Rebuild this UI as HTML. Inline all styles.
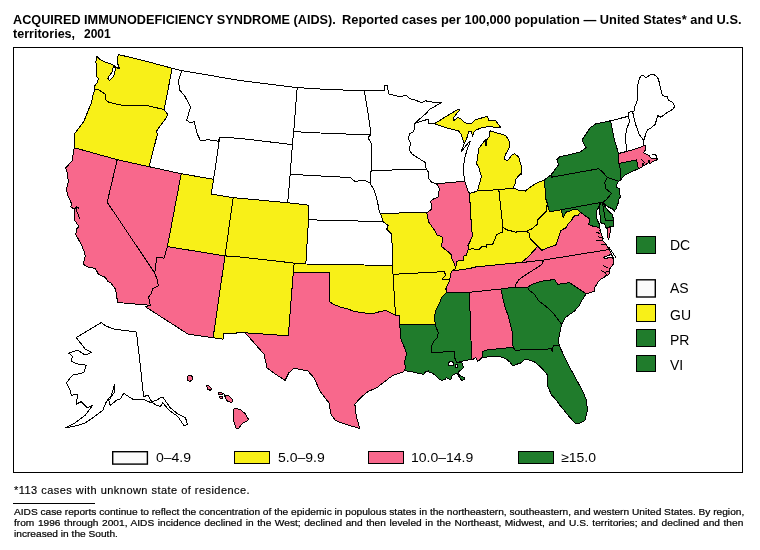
<!DOCTYPE html>
<html><head><meta charset="utf-8">
<style>
html,body{margin:0;padding:0;background:#fff;}
body{width:760px;height:550px;position:relative;overflow:hidden;font-family:"Liberation Sans",sans-serif;color:#000;}
.t{position:absolute;white-space:nowrap;transform-origin:0 0;}
.tt{font-weight:bold;font-size:12px;line-height:14px;}
#frame{position:absolute;left:13px;top:47px;width:730px;height:426px;border:1px solid #000;box-sizing:border-box;}
#fn{left:13.75px;top:483.5px;font-size:10px;line-height:13px;letter-spacing:0.42px;transform:scaleX(1.1);-webkit-text-stroke:0.15px #000;}
#rule{position:absolute;left:13px;top:503px;width:81.5px;height:1px;background:#000;}
.p{font-size:9px;line-height:11px;left:13.5px;transform:scaleX(1.128);-webkit-text-stroke:0.2px #000;}
#p1{top:506.9px;}#p2{top:517.6px;word-spacing:0.68px;}#p3{top:528.6px;}
svg{position:absolute;left:0;top:0;}
.lb{position:absolute;box-sizing:border-box;border:1px solid #000;}
.lt{position:absolute;white-space:nowrap;font-size:13px;line-height:14px;transform-origin:0 0;transform:scaleX(1.077);}
.rt{position:absolute;white-space:nowrap;font-size:14px;line-height:16px;left:670px;transform-origin:0 0;}

</style></head><body>
<div class="t tt" id="title1" style="left:13.4px;top:12.9px;transform:scaleX(1.0555)">ACQUIRED IMMUNODEFICIENCY SYNDROME (AIDS).</div>
<div class="t tt" id="title1b" style="left:341.9px;top:12.9px;transform:scaleX(1.068)">Reported cases per 100,000 population — United States* and U.S.</div>
<div class="t tt" id="title2" style="left:13.2px;top:26.5px;transform:scaleX(1.046)">territories,</div>
<div class="t tt" id="title2b" style="left:84px;top:26.5px;">2001</div>
<div id="frame"></div>
<svg id="map" width="760" height="550" viewBox="0 0 760 550">
<!--MAP-->
<g stroke="#000" stroke-width="1" stroke-linejoin="round" shape-rendering="crispEdges">
<polygon fill="#f8688c" points="500.7,289.0 469.4,292.3 471.0,340.2 471.6,357.8 472.2,359.6 475.8,357.8 477.6,361.3 479.3,360.1 481.7,357.8 482.9,357.8 482.9,351.6 485.3,350.2 513.1,347.2 512.2,331.4 508.0,315.1 505.1,307.2"/>
<polygon fill="#f8f018" points="393.0,274.3 395.5,315.2 399.5,316.0 399.8,324.6 435.1,324.6 434.7,315.1 436.5,308.6 439.8,302.5 441.9,296.9 447.1,292.2 445.8,289.0 447.4,285.1 449.8,280.0 442.4,279.5 442.7,278.0 445.8,275.6 444.3,271.6"/>
<polygon fill="#f8688c" points="154.7,273.0 157.1,279.4 158.4,285.7 152.6,288.9 151.4,293.4 148.6,297.2 149.5,301.0 150.3,305.3 145.6,306.9 188.0,334.1 213.1,337.8 225.0,255.9 167.4,246.6 164.7,256.0 164.0,258.3 161.5,257.7 156.5,257.7 155.8,265.5"/>
<polygon fill="#f8688c" points="74.3,147.7 117.2,159.7 107.2,202.2 154.7,273.0 157.1,279.4 158.4,285.7 152.6,288.9 151.4,293.4 148.6,297.2 149.5,301.0 150.3,305.3 117.6,302.5 115.7,289.5 110.6,282.5 107.5,281.3 105.5,277.5 98.5,274.3 95.4,268.5 86.5,266.6 83.3,264.1 85.3,256.3 84.5,252.0 81.4,245.0 75.9,234.5 76.5,228.7 79.1,226.8 74.0,219.2 74.6,209.0 70.8,207.1 71.5,203.7 67.6,194.8 66.4,188.9 68.3,181.9 67.6,174.3 65.7,167.9 72.1,160.9"/>
<polygon fill="#f8f018" points="233.2,197.7 225.0,255.9 240.0,257.0 294.2,263.1 305.8,264.0 308.5,219.8 309.0,205.2 287.7,202.7 240.0,198.3"/>
<polygon fill="#207c2c" points="618.9,163.4 620.6,170.0 620.8,176.0 620.5,180.3 621.8,178.4 625.5,174.6 630.8,172.1 634.7,170.3 639.3,168.6 637.7,166.3 636.7,159.9"/>
<polygon fill="#207c2c" points="482.9,357.8 482.9,351.6 485.3,350.2 513.1,347.2 515.1,350.2 551.5,348.9 552.3,351.4 553.3,345.7 559.2,345.5 566.6,361.5 575.4,377.8 582.9,391.6 586.6,400.4 587.4,410.4 584.9,420.5 579.1,423.5 575.4,423.5 570.3,417.9 564.1,410.4 559.0,404.1 556.5,400.4 551.5,394.9 549.0,389.1 547.3,385.3 547.8,375.3 541.5,367.8 534.0,361.5 525.2,359.0 521.4,362.7 512.6,365.7 510.1,362.2 505.1,358.2 498.8,356.5 490.0,356.5"/>
<polygon fill="#207c2c" points="515.9,287.0 500.7,289.0 505.1,307.2 508.0,315.1 512.2,331.4 513.1,347.2 515.1,350.2 551.5,348.9 552.3,351.4 553.3,345.7 559.2,345.5 558.3,340.2 559.8,332.6 561.7,324.5 552.8,312.5 549.0,308.8 538.7,300.9 534.0,293.8 528.5,289.8 527.7,287.0"/>
<polygon fill="#ffffff" points="371.2,170.5 370.0,176.4 370.0,183.0 374.3,190.2 377.5,201.5 379.3,212.0 380.5,213.5 425.7,212.3 426.9,213.0 431.6,209.0 430.8,201.1 432.4,199.5 437.9,197.2 439.5,188.5 436.4,183.7 431.6,182.1 428.5,178.2 428.8,172.6 426.2,169.2"/>
<polygon fill="#ffffff" points="172.2,68.3 164.1,109.5 167.4,114.0 166.6,117.3 156.1,131.6 157.4,134.1 149.1,166.7 181.2,173.7 213.6,179.3 219.8,137.1 218.1,141.6 216.1,140.8 208.1,139.8 200.5,140.8 196.8,132.8 194.3,121.5 190.5,122.8 186.7,120.3 190.5,107.2 185.0,96.4 179.9,90.2 178.4,81.4 181.7,70.6"/>
<polygon fill="#f8688c" points="436.4,183.7 439.5,188.5 437.9,197.2 432.4,199.5 430.8,201.1 431.6,209.0 426.9,213.0 428.5,221.7 434.0,229.6 437.2,235.1 441.9,236.8 442.7,240.8 441.1,246.3 447.4,251.1 451.4,255.0 452.2,259.8 454.5,263.7 455.7,268.5 456.6,261.7 459.3,260.1 463.2,260.6 463.6,256.3 466.4,255.0 468.3,249.5 468.0,245.6 470.4,240.8 472.4,236.1 471.4,225.0 470.4,210.6 469.6,193.5 468.0,190.8 464.8,181.3"/>
<polygon fill="#f8f018" points="469.6,193.5 470.4,210.6 471.4,225.0 472.4,236.1 470.4,240.8 468.0,245.6 468.3,249.5 472.7,248.7 478.3,250.0 482.2,246.3 486.2,247.1 487.0,244.0 492.5,244.8 494.9,239.2 496.4,234.5 502.8,232.1 502.9,227.0 498.8,189.7 477.5,190.8 473.5,192.4"/>
<polygon fill="#ffffff" points="308.5,219.8 305.8,264.0 392.6,265.5 391.8,234.1 386.8,229.1 388.1,225.3 383.0,221.6"/>
<polygon fill="#f8f018" points="455.7,268.5 452.2,270.9 469.6,268.5 475.9,266.9 519.7,262.6 521.3,262.6 528.5,256.6 535.6,248.7 537.9,246.3 534.0,242.4 530.0,238.4 529.2,232.9 526.1,231.3 522.1,231.3 515.8,232.1 506.3,229.7 503.2,227.4 502.9,227.0 502.8,232.1 496.4,234.5 494.9,239.2 492.5,244.8 487.0,244.0 486.2,247.1 482.2,246.3 478.3,250.0 472.7,248.7 468.3,249.5 466.4,255.0 463.6,256.3 463.2,260.6 459.3,260.1 456.6,261.7"/>
<polygon fill="#207c2c" points="399.8,324.6 400.5,337.6 402.0,342.0 405.3,349.5 406.5,354.2 404.7,361.3 405.3,368.0 404.5,370.8 410.7,371.4 415.4,372.6 423.7,374.3 425.5,372.0 428.4,370.8 429.6,372.6 432.6,373.2 435.5,375.5 439.1,379.1 441.4,380.3 445.0,379.7 446.2,377.3 448.0,378.5 450.9,379.7 452.1,375.5 456.8,373.2 461.6,380.3 464.5,379.7 465.1,377.9 459.2,374.9 458.0,372.0 461.6,369.6 463.4,367.2 462.2,363.1 459.2,361.9 457.0,362.6 455.7,360.7 454.0,355.4 454.5,351.6 431.4,352.4 432.0,344.7 434.3,340.5 437.2,337.7 438.2,332.7 435.1,324.6"/>
<polygon fill="#f8688c" points="618.6,153.5 618.9,163.4 636.7,159.9 637.7,166.3 639.3,168.6 641.6,167.3 642.6,166.5 642.3,163.5 643.2,163.5 643.5,166.0 644.9,165.3 646.6,164.0 648.6,162.7 650.5,163.4 652.5,161.7 655.1,160.7 657.8,159.4 657.1,158.1 655.1,158.1 653.2,159.1 650.9,158.1 649.2,155.5 646.6,154.1 643.6,152.8 644.6,151.5 645.9,148.6 645.3,145.9 643.9,145.6 642.6,146.3 636.7,148.6 626.5,151.5"/>
<polygon fill="#207c2c" points="560.9,209.8 563.2,217.2 566.3,211.9 570.5,210.8 573.7,209.2 577.4,209.2 580.6,212.4 589.9,219.1 588.6,224.3 593.2,226.3 596.4,226.9 599.7,228.3 599.7,225.0 597.8,221.0 596.1,217.1 596.8,210.5 598.4,207.9 599.8,202.6"/>
<polygon fill="#ffffff" points="632.5,111.3 635.6,124.3 639.1,134.3 643.8,140.6 645.8,133.8 647.4,129.8 650.6,128.3 655.3,124.3 656.1,121.1 657.7,115.6 660.9,117.2 664.0,114.8 668.0,112.0 673.5,108.8 674.6,106.1 672.4,102.2 668.8,100.6 667.2,96.6 662.5,95.8 660.1,86.4 658.5,79.2 656.1,76.1 653.0,74.0 649.8,75.0 645.8,78.1 643.5,75.3 641.4,75.3 639.5,78.5 637.2,87.2 637.2,100.6 634.8,106.9 634.0,110.9"/>
<polygon fill="#f8f018" points="434.3,123.8 447.4,128.1 458.5,130.8 460.9,134.0 464.2,143.6 467.2,137.2 468.8,131.6 471.1,131.6 472.7,136.4 473.5,132.4 475.9,130.0 482.2,127.7 490.1,126.1 494.9,127.7 500.4,127.2 495.7,120.6 488.5,120.2 487.7,116.3 475.1,119.8 471.1,123.7 464.8,122.9 460.9,118.7 457.7,117.7 453.8,120.6 453.0,118.2 456.9,113.4 459.8,109.8 457.7,109.5 445.9,116.6"/>
<polygon fill="#f8f018" points="477.5,190.8 498.8,189.7 513.2,188.0 515.0,184.0 515.8,179.2 520.5,173.7 521.5,174.0 521.0,165.0 518.6,156.9 514.6,153.8 511.5,155.3 507.5,160.9 504.7,159.3 505.1,155.3 509.4,147.4 509.1,141.1 505.9,135.6 498.0,133.2 490.1,130.8 489.3,136.4 487.0,139.5 486.2,145.1 485.4,139.5 483.0,142.7 479.0,148.2 477.5,156.9 476.7,164.0 479.0,168.0 481.4,176.6"/>
<polygon fill="#ffffff" points="364.2,90.7 368.0,112.7 370.5,130.3 370.5,134.8 368.0,137.8 371.7,144.1 371.2,170.5 426.2,169.2 425.3,162.5 412.6,154.5 409.5,150.6 410.3,142.7 408.2,138.7 409.5,134.0 413.9,131.6 414.7,123.4 426.6,112.9 429.0,109.8 434.5,106.6 441.6,102.6 429.8,101.9 425.8,100.8 421.1,102.6 417.1,100.8 413.2,99.5 410.0,98.7 406.9,95.7 398.1,96.4 388.6,93.9 387.3,85.6 384.3,85.6 384.3,90.2"/>
<polygon fill="#f8f018" points="380.5,213.5 383.0,221.6 388.1,225.3 386.8,229.1 391.8,234.1 392.6,265.5 393.0,274.3 444.3,271.6 445.8,275.6 442.7,278.0 442.4,279.5 449.8,280.0 450.6,274.0 452.2,270.9 455.7,268.5 454.5,263.7 452.2,259.8 451.4,255.0 447.4,251.1 441.1,246.3 442.7,240.8 441.9,236.8 437.2,235.1 434.0,229.6 428.5,221.7 426.9,213.0 425.7,212.3"/>
<polygon fill="#207c2c" points="447.1,292.2 441.9,296.9 439.8,302.5 436.5,308.6 434.7,315.1 435.1,324.6 438.2,332.7 437.2,337.7 434.3,340.5 432.0,344.7 431.4,352.4 454.5,351.6 454.0,355.4 455.7,360.7 457.0,362.6 461.6,361.3 471.1,359.5 472.2,359.6 471.6,357.8 471.0,340.2 469.4,292.3"/>
<polygon fill="#ffffff" points="181.7,70.6 178.4,81.4 179.9,90.2 185.0,96.4 190.5,107.2 186.7,120.3 190.5,122.8 194.3,121.5 196.8,132.8 200.5,140.8 208.1,139.8 216.1,140.8 218.1,141.6 219.8,137.1 240.0,138.4 292.4,144.6 293.7,131.6 297.2,87.6 240.0,80.5"/>
<polygon fill="#f8688c" points="543.5,260.1 541.9,264.5 533.2,270.1 526.9,274.0 519.0,279.5 515.8,284.3 515.9,287.0 527.7,287.0 534.0,283.5 541.9,281.1 554.5,279.5 557.7,284.3 569.6,282.7 586.2,293.8 594.1,291.4 594.9,287.5 598.0,281.9 601.2,278.8 604.3,277.2 609.1,272.4 609.9,268.5 613.8,263.7 613.0,256.6 609.1,249.5"/>
<polygon fill="#ffffff" points="297.2,87.6 293.7,131.6 330.0,133.5 370.5,134.8 370.5,130.3 368.0,112.7 364.2,90.7 330.0,89.6"/>
<polygon fill="#ffffff" points="287.7,202.7 309.0,205.2 308.5,219.8 383.0,221.6 380.5,213.5 379.3,212.0 377.5,201.5 374.3,190.2 370.0,183.0 364.2,180.2 354.9,181.4 350.4,177.6 290.2,174.3"/>
<polygon fill="#ffffff" points="628.3,116.3 629.6,121.6 626.4,129.5 625.6,137.4 626.5,151.5 636.7,148.6 642.6,146.3 643.9,145.6 643.8,140.6 639.1,134.3 635.6,124.3 632.5,111.3 628.5,112.5"/>
<polygon fill="#207c2c" points="607.4,177.3 604.8,182.5 605.5,188.4 611.4,193.4 606.4,199.6 603.0,202.0 605.7,205.2 608.9,207.2 613.6,209.5 614.2,211.2 616.6,208.0 617.0,205.6 618.3,202.9 618.9,199.6 620.6,196.3 619.9,195.0 619.6,188.4 616.6,187.8 617.0,183.8 618.3,181.2"/>
<polygon fill="#f8f018" points="225.0,255.9 213.1,337.8 223.1,339.1 223.8,333.3 245.2,332.8 288.3,335.8 293.3,272.1 294.2,263.1 240.0,257.0"/>
<polygon fill="#f8688c" points="117.2,159.7 149.1,166.7 181.2,173.7 167.4,246.6 164.7,256.0 164.0,258.3 161.5,257.7 156.5,257.7 155.8,265.5 154.7,273.0 107.2,202.2"/>
<polygon fill="#207c2c" points="551.4,174.5 551.4,177.2 598.8,168.7 602.5,172.0 607.4,177.3 618.3,181.2 620.5,180.3 620.8,176.0 620.6,170.0 618.9,163.4 618.6,153.5 614.5,140.6 610.5,120.8 595.6,124.0 590.0,127.9 585.3,135.1 582.1,139.8 583.7,143.8 586.1,147.7 580.6,151.7 575.8,153.2 569.6,154.7 560.1,156.6 556.9,159.5 558.5,165.0"/>
<polygon fill="#f8f018" points="498.8,189.7 502.9,227.0 503.2,227.4 506.3,229.7 515.8,232.1 522.1,231.3 526.1,231.3 531.6,229.0 536.4,225.0 537.2,224.3 537.9,219.6 542.7,214.8 546.6,210.9 547.2,203.0 546.0,199.5 544.3,180.0 536.4,183.2 529.2,187.9 525.3,191.1 519.0,190.3 513.2,188.0"/>
<polygon fill="#f8f018" points="294.2,263.1 293.3,272.1 329.6,272.6 329.2,301.4 333.0,304.0 340.5,307.2 348.1,309.0 354.3,311.5 363.1,312.7 371.9,314.0 380.6,311.4 385.5,310.5 393.0,313.8 395.5,315.2 393.0,274.3 392.6,265.5 305.8,264.0"/>
<polygon fill="#f8f018" points="164.1,109.5 145.2,105.2 130.0,105.8 117.7,104.7 114.5,103.6 108.5,102.0 105.2,99.3 105.2,94.4 103.0,92.7 99.2,90.0 94.8,89.5 93.2,93.8 91.4,102.7 83.8,121.5 74.3,134.1 74.3,147.7 117.2,159.7 149.1,166.7 157.4,134.1 156.1,131.6 166.6,117.3 167.4,114.0"/>
<polygon fill="#207c2c" points="544.3,180.0 546.0,199.5 549.5,211.7 560.9,209.8 599.8,202.6 603.0,202.0 606.4,199.6 611.4,193.4 605.5,188.4 604.8,182.5 607.4,177.3 602.5,172.0 598.8,168.7 551.4,177.2 551.4,174.5"/>
<polygon fill="#207c2c" points="527.7,287.0 528.5,289.8 534.0,293.8 538.7,300.9 549.0,308.8 552.8,312.5 561.7,324.5 565.3,317.6 574.1,311.3 579.1,306.0 580.6,302.5 586.2,293.8 569.6,282.7 557.7,284.3 554.5,279.5 541.9,281.1 534.0,283.5"/>
<polygon fill="#ffffff" points="292.4,144.6 290.2,174.3 350.4,177.6 354.9,181.4 364.2,180.2 370.0,183.0 370.0,176.4 371.2,170.5 371.7,144.1 368.0,137.8 370.5,134.8 330.0,133.5 293.7,131.6"/>
<polygon fill="#f8688c" points="452.2,270.9 450.6,274.0 449.8,280.0 447.4,285.1 445.8,289.0 447.1,292.2 469.4,292.3 500.7,289.0 515.9,287.0 515.8,284.3 519.0,279.5 526.9,274.0 533.2,270.1 541.9,264.5 543.5,260.1 521.3,262.6 519.7,262.6 475.9,266.9 469.6,268.5"/>
<polygon fill="#f8688c" points="293.3,272.1 288.3,335.8 245.2,332.8 254.0,342.8 264.0,354.1 267.0,367.8 275.1,374.0 285.1,380.3 288.9,372.8 293.9,368.3 307.7,370.8 314.0,377.8 320.2,391.6 329.0,402.9 331.0,414.2 335.3,420.5 345.3,424.2 359.9,428.5 356.6,417.9 355.4,410.4 354.9,404.1 360.4,397.9 367.9,391.6 376.7,387.8 388.0,379.0 393.0,375.3 402.4,372.2 404.5,370.8 405.3,368.0 404.7,361.3 406.5,354.2 405.3,349.5 402.0,342.0 400.5,337.6 399.8,324.6 399.5,316.0 395.5,315.2 393.0,313.8 385.5,310.5 380.6,311.4 371.9,314.0 363.1,312.7 354.3,311.5 348.1,309.0 340.5,307.2 333.0,304.0 329.2,301.4 329.6,272.6"/>
<polygon fill="#f8f018" points="213.6,179.3 181.2,173.7 167.4,246.6 225.0,255.9 233.2,197.7 211.1,194.0"/>
<polygon fill="#f8688c" points="537.9,246.3 535.6,248.7 528.5,256.6 521.3,262.6 543.5,260.1 609.1,249.5 606.4,244.5 602.2,240.3 603.2,238.2 601.6,235.0 599.7,228.3 596.4,226.9 593.2,226.3 588.6,224.3 589.9,219.1 580.6,212.4 577.9,215.6 573.7,216.1 571.6,220.3 568.0,224.3 566.4,227.5 560.9,230.5 557.7,240.0 556.1,244.8 547.4,247.9 541.9,250.3"/>
<polygon fill="#ffffff" points="610.5,120.8 614.5,140.6 618.6,153.5 626.5,151.5 625.6,137.4 626.4,129.5 629.6,121.6 628.3,116.3"/>
<polygon fill="#f8f018" points="94.8,89.5 94.8,85.6 97.0,82.9 98.6,78.5 96.5,76.4 97.0,66.5 95.9,62.2 96.5,56.2 101.4,60.5 106.8,62.7 112.3,64.4 115.0,66.5 117.7,68.2 119.4,68.7 117.2,62.2 118.3,54.5 145.0,60.9 172.2,68.3 164.1,109.5 145.2,105.2 130.0,105.8 117.7,104.7 114.5,103.6 108.5,102.0 105.2,99.3 105.2,94.4 103.0,92.7 99.2,90.0"/>
<polygon fill="#ffffff" points="414.7,123.4 413.9,131.6 409.5,134.0 408.2,138.7 410.3,142.7 409.5,150.6 412.6,154.5 425.3,162.5 426.2,169.2 428.8,172.6 428.5,178.2 431.6,182.1 436.4,183.7 464.8,181.3 463.2,169.6 464.5,159.3 467.2,149.0 470.4,141.4 469.6,141.1 460.9,152.2 464.2,143.6 460.9,134.0 458.5,130.8 447.4,128.1 434.3,123.8 428.9,124.0 428.1,119.3 420.6,121.3"/>
<polygon fill="#f8f018" points="546.0,199.5 547.2,203.0 546.6,210.9 542.7,214.8 537.9,219.6 537.2,224.3 536.4,225.0 531.6,229.0 526.1,231.3 529.2,232.9 530.0,238.4 534.0,242.4 537.9,246.3 541.9,250.3 547.4,247.9 556.1,244.8 557.7,240.0 560.9,230.5 566.4,227.5 568.0,224.3 571.6,220.3 573.7,216.1 577.9,215.6 580.6,212.4 577.4,209.2 573.7,209.2 570.5,210.8 566.3,211.9 563.2,217.2 560.9,209.8 549.5,211.7"/>
<polygon fill="#ffffff" points="219.8,137.1 213.6,179.3 211.1,194.0 233.2,197.7 240.0,198.3 287.7,202.7 290.2,174.3 292.4,144.6 240.0,138.4"/>
<polygon fill="#207c2c" points="600.8,202.4 603.0,202.0 604.3,205.2 606.3,208.5 609.6,212.1 612.6,214.8 612.6,217.1 613.6,218.4 613.6,226.3 611.6,226.9 608.9,226.9 606.3,228.3 605.3,225.6 603.7,223.0 601.7,223.7 600.4,221.7 601.0,219.7 600.7,217.7 599.7,214.4 599.1,209.8 599.7,205.9"/>
<polygon fill="#f8688c" points="607.8,227.0 611.0,227.0 610.6,230.8 608.7,239.3 607.4,237.0 607.2,232.0"/>
<polygon fill="#ffffff" points="101.4,322.5 105.2,325.5 112.7,328.8 136.5,332.1 140.8,370.2 143.6,396.6 147.8,395.3 151.6,401.6 156.6,400.3 160.4,397.8 162.9,397.3 170.4,407.9 177.9,414.1 185.5,417.9 187.5,424.2 184.2,425.9 180.4,420.4 177.9,416.6 169.2,410.4 162.9,402.8 160.4,406.6 156.6,405.3 152.8,402.8 147.8,401.6 143.6,399.1 132.8,399.1 126.5,395.3 124.0,392.8 120.2,399.1 116.5,400.3 110.2,405.3 108.9,400.3 114.0,392.8 114.7,384.0 111.4,395.3 106.4,401.6 102.7,410.4 92.6,417.9 85.1,422.9 77.6,425.4 65.5,427.9 75.1,422.9 85.1,415.4 92.6,405.3 87.6,407.9 81.3,401.6 76.3,404.1 77.6,394.1 71.3,395.3 70.0,390.3 66.3,382.8 72.5,375.2 83.8,372.7 86.3,365.2 77.6,363.9 71.3,361.4 72.5,356.4 68.8,353.1 77.6,350.1 85.1,355.1 91.4,352.6 85.1,348.9 76.3,337.6"/>
<polygon fill="#f8688c" points="234.1,408.3 239.8,409.3 244.9,413.3 248.7,419.7 246.2,421.6 242.3,423.5 238.5,428.6 236.0,428.0 233.7,421.0 233.2,415.9"/>
<polygon fill="#f8688c" points="224.4,394.8 228.6,395.8 232.7,399.8 231.9,402.3 227.6,401.6 225.6,398.3"/>
<polygon fill="#f8688c" points="206.3,385.3 208.6,385.8 211.8,389.0 210.1,390.3 207.6,389.0"/>
<polygon fill="#f8688c" points="218.1,392.3 223.1,393.3 222.6,394.6 218.6,394.1"/>
<polygon fill="#f8688c" points="219.8,396.1 222.4,396.6 222.1,399.1 220.1,398.6"/>
<ellipse cx="189.9" cy="378.3" rx="2.6" ry="2.9" fill="#f8688c"/><polygon fill="#fff" points="113.9,66 115.5,68.2 115,71.5 113.9,75.3 112.3,78 109.5,80.2 107.9,79.1 108.5,76.4 110.6,74.2 112.3,71.5 112.8,68.7"/><polyline fill="none" points="74.6,209 76.5,206.5 79.1,208.5"/><polyline fill="none" points="76.2,207 76.5,210.3 79.7,218.5"/><ellipse cx="451" cy="363.8" rx="3" ry="2.1" fill="#fff"/><ellipse cx="456.6" cy="366" rx="1.4" ry="1.6" fill="#fff"/><polygon fill="#fff" points="603.6,257.4 607.5,255.8 611.5,254.2 612.6,258.2 609.1,257.4 605.1,259"/><circle cx="607.5" cy="273.2" r="1.9" fill="#f8688c"/><path fill="none" d="M595.6,240.8L602.8,240.8M598,236.9L602.8,237.6M601.2,244L606,244.8M602.8,265.3L607.5,267.7M601.2,270.8L605.1,272.4M602.4,202.6L605.3,220L612.9,220M640.7,158.8L645.3,163"/><path fill="none" d="M657.1,158.1L656.1,155.8L654.5,154.2L652.2,154.2"/><rect x="648.2" y="160.2" width="1.3" height="1.8" fill="#000" stroke="none"/><rect x="485.3" y="140.5" width="1.4" height="5" fill="#000" stroke="none"/><rect x="520.2" y="172.8" width="1.6" height="1.8" fill="#000" stroke="none"/><path fill="none" d="M608.6,246.7L616.4,258.3M596.5,232.5L600.5,233.5M598.5,229.8L601,231"/>
</g>
<!--/MAP-->
</svg>

<svg width="760" height="550" style="pointer-events:none"><rect x="112.7" y="451.7" width="34.7" height="12.4" fill="#fbfbfb" stroke="#000" stroke-width="1.4"/><rect x="636.6" y="279.8" width="18.7" height="17.2" fill="#fbfbfb" stroke="#000" stroke-width="1.4"/></svg>
<div class="lt" style="left:155.5px;top:451px;">0–4.9</div>
<div class="lb" style="left:234px;top:451px;width:36px;height:13px;background:#f8f018;"></div>
<div class="lt" style="left:277.5px;top:451px;">5.0–9.9</div>
<div class="lb" style="left:368px;top:451px;width:36px;height:13px;background:#f8688c;"></div>
<div class="lt" style="left:411px;top:451px;">10.0–14.9</div>
<div class="lb" style="left:518px;top:451px;width:36px;height:13px;background:#207c2c;"></div>
<div class="lt" style="left:561px;top:451px;">≥15.0</div>
<div class="lb" style="left:636px;top:236px;width:20px;height:18px;background:#207c2c;"></div>
<div class="rt" style="top:237px;">DC</div>

<div class="rt" style="top:280px;">AS</div>
<div class="lb" style="left:636px;top:304px;width:20px;height:18px;background:#f8f018;"></div>
<div class="rt" style="top:307px;">GU</div>
<div class="lb" style="left:636px;top:329px;width:20px;height:18px;background:#207c2c;"></div>
<div class="rt" style="top:332px;">PR</div>
<div class="lb" style="left:636px;top:354.5px;width:20px;height:17.5px;background:#207c2c;"></div>
<div class="rt" style="top:357px;">VI</div>
<div class="t" id="fn">*113 cases with unknown state of residence.</div>
<div id="rule"></div>
<div class="t p" id="p1">AIDS case reports continue to reflect the concentration of the epidemic in populous states in the northeastern, southeastern, and western United States. By region,</div>
<div class="t p" id="p2">from 1996 through 2001, AIDS incidence declined in the West; declined and then leveled in the Northeast, Midwest, and U.S. territories; and declined and then</div>
<div class="t p" id="p3">increased in the South.</div>
</body></html>
